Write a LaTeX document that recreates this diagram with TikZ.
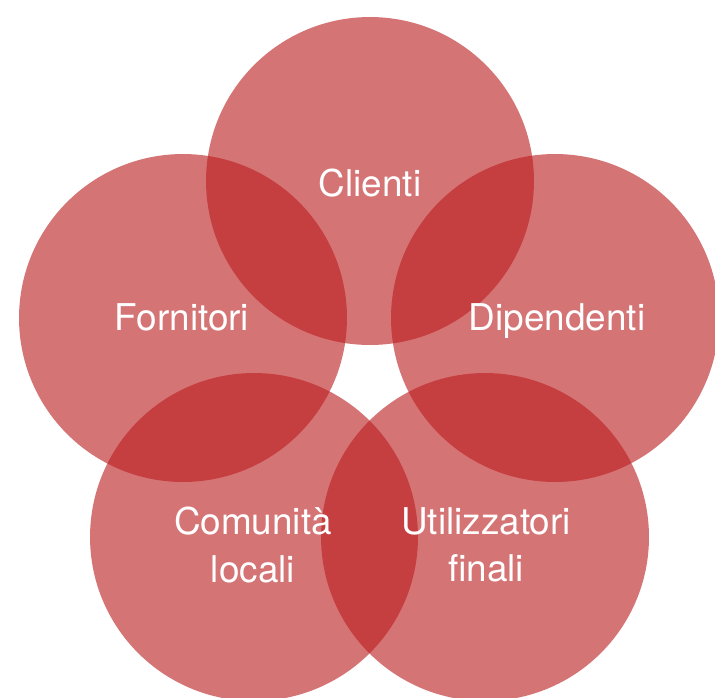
\documentclass[tikz,border=0pt]{standalone}
\usepackage{fontspec}
\setmainfont{TeX Gyre Heros}
\definecolor{stakered}{RGB}{187,30,33}
\begin{document}
\begin{tikzpicture}[x=0.02cm,y=-0.02cm,
  ring/.style={circle,fill=stakered,fill opacity=0.62,minimum size=6.56cm,inner sep=0pt},
  word/.style={text=white,font=\fontsize{21}{27}\selectfont,align=center}]
\useasboundingbox (0,0) rectangle (715,697);
\node [ring] (clienti) at (370,181) {};
\node [ring] (fornitori) at (183,318) {};
\node [ring] (dipendenti) at (555,318) {};
\node [ring] (comunita) at (254,537) {};
\node [ring] (utilizzatori) at (485,537) {};
% labels on top
\node [word] (t1) at (370,183) {Clienti};
\node [word] (t2) at (182,317) {Fornitori};
\node [word] (t3) at (557,321) {Dipendenti};
\node [word] (t4) at (253,545) {Comunità\\locali};
\node [word] (t5) at (486,545) {Utilizzatori\\finali};
\end{tikzpicture}
\end{document}
